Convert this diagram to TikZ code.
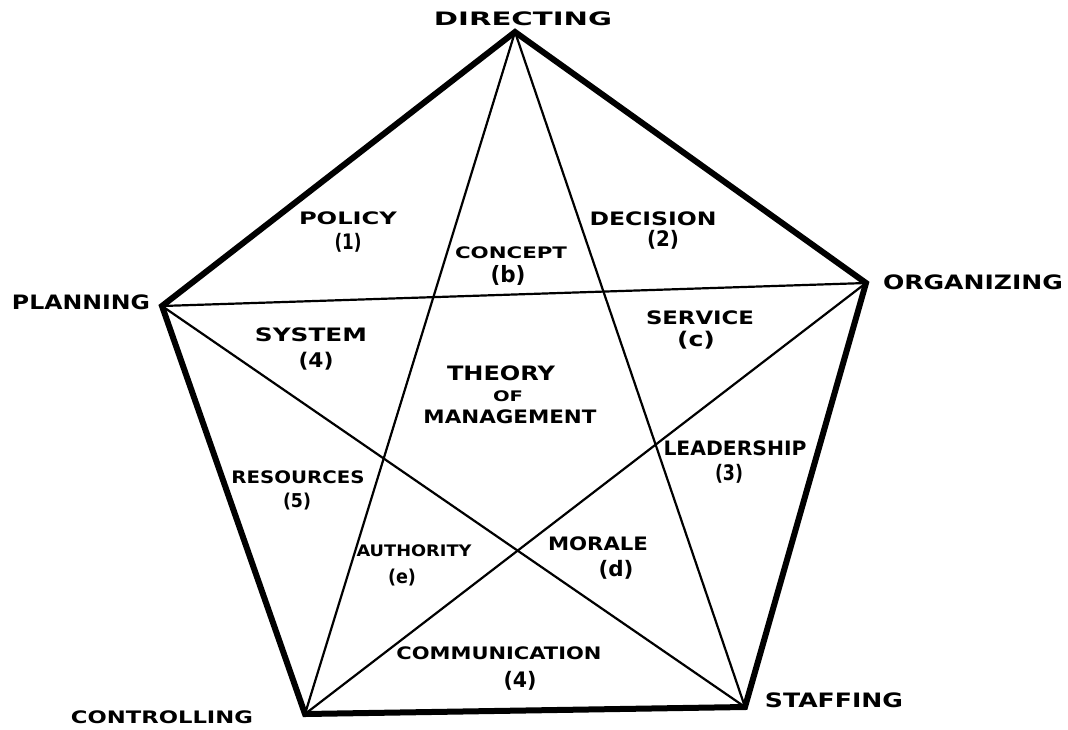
\documentclass[tikz,border=0pt]{standalone}
\usepackage{fontspec}
\setmainfont{DejaVu Sans}
\usepackage{graphicx}
\newcommand\hwtext[3]{\resizebox*{#1pt}{#2pt}{\bfseries #3}}
\tikzset{
  lbl/.style={inner sep=0pt, outer sep=0pt},
  rim/.style={line width=6pt},
  starline/.style={line width=2.2pt}
}
\begin{document}
\begin{tikzpicture}[x=1pt,y=-1pt]
\useasboundingbox[fill=white] (0,0) rectangle (1068,729);
% vertices
\coordinate (D) at (515,32);
\coordinate (O) at (866,283);
\coordinate (S) at (745,707);
\coordinate (C) at (305,714);
\coordinate (P) at (162,306);
% pentagon
\draw[rim] (D) -- (O) -- (S) -- (C) -- (P) -- cycle;
% star
\draw[starline] (P) -- (O);
\draw[starline] (P) -- (S);
\draw[starline] (D) -- (C);
\draw[starline] (D) -- (S);
\draw[starline] (O) -- (C);
% vertex labels
\node[lbl] (directing) at (523,19) {\hwtext{178}{14}{DIRECTING}};
\node[lbl] (planning) at (81,302) {\hwtext{138}{15}{PLANNING}};
\node[lbl] (organizing) at (973,282) {\hwtext{180}{15}{ORGANIZING}};
\node[lbl] (controlling) at (162,717) {\hwtext{182}{13}{CONTROLLING}};
\node[lbl] (staffing) at (834,700) {\hwtext{138}{15}{STAFFING}};
% region labels
\node[lbl] (policy) at (348,218) {\hwtext{98}{13}{POLICY}};
\node[lbl] (policyn) at (348,243) {\hwtext{27}{19}{(1)}};
\node[lbl] (concept) at (511,253) {\hwtext{112}{12}{CONCEPT}};
\node[lbl] (conceptn) at (508,275) {\hwtext{35}{20}{(b)}};
\node[lbl] (decision) at (653,219) {\hwtext{127}{14}{DECISION}};
\node[lbl] (decisionn) at (663,240) {\hwtext{32}{19}{(2)}};
\node[lbl] (service) at (700,318) {\hwtext{108}{14}{SERVICE}};
\node[lbl] (servicen) at (696,340) {\hwtext{38}{18}{(c)}};
\node[lbl] (system) at (311,335) {\hwtext{112}{14}{SYSTEM}};
\node[lbl] (systemn) at (316,361) {\hwtext{35}{18}{(4)}};
\node[lbl] (theory) at (501,373) {\hwtext{108}{15}{THEORY}};
\node[lbl] (of) at (508,396) {\hwtext{30}{11}{OF}};
\node[lbl] (management) at (510,417) {\hwtext{173}{14}{MANAGEMENT}};
\node[lbl] (resources) at (298,477) {\hwtext{133}{13}{RESOURCES}};
\node[lbl] (resourcesn) at (297,502) {\hwtext{28}{17}{(5)}};
\node[lbl] (authority) at (414,551) {\hwtext{115}{12}{AUTHORITY}};
\node[lbl] (authorityn) at (402,578) {\hwtext{28}{17}{(e)}};
\node[lbl] (morale) at (598,544) {\hwtext{100}{14}{MORALE}};
\node[lbl] (moralen) at (616,570) {\hwtext{35}{19}{(d)}};
\node[lbl] (leadership) at (735,448) {\hwtext{143}{15}{LEADERSHIP}};
\node[lbl] (leadershipn) at (729,474) {\hwtext{28}{19}{(3)}};
\node[lbl] (communication) at (499,653) {\hwtext{205}{13}{COMMUNICATION}};
\node[lbl] (communicationn) at (520,681) {\hwtext{33}{19}{(4)}};
\end{tikzpicture}
\end{document}
